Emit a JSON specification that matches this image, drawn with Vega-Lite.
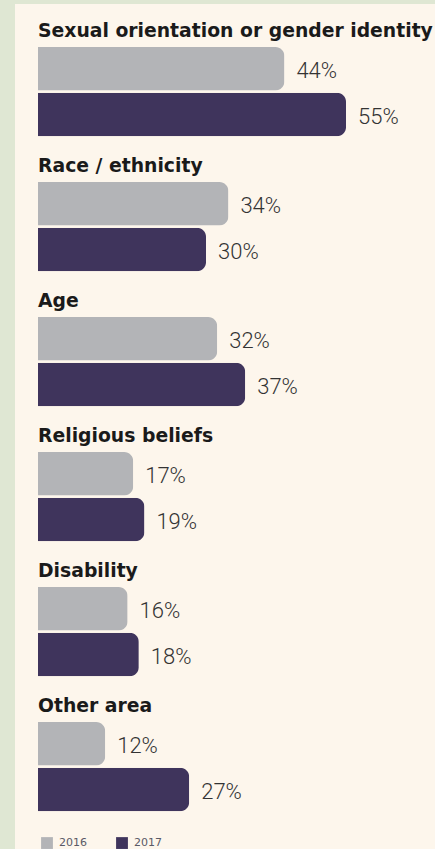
{
  "$schema": "https://vega.github.io/schema/vega-lite/v6.json",
  "width": 420,
  "height": 845,
  "autosize": {"type": "none"},
  "padding": {"left": 15, "top": 4, "right": 0, "bottom": 0},
  "background": "#dfe7d3",
  "view": {"fill": "#fdf6ec", "stroke": null},
  "data": {
    "values": [
      {"category": "Sexual orientation or gender identity", "year": "2016", "value": 0.44},
      {"category": "Sexual orientation or gender identity", "year": "2017", "value": 0.55},
      {"category": "Race / ethnicity", "year": "2016", "value": 0.34},
      {"category": "Race / ethnicity", "year": "2017", "value": 0.30},
      {"category": "Age", "year": "2016", "value": 0.32},
      {"category": "Age", "year": "2017", "value": 0.37},
      {"category": "Religious beliefs", "year": "2016", "value": 0.17},
      {"category": "Religious beliefs", "year": "2017", "value": 0.19},
      {"category": "Disability", "year": "2016", "value": 0.16},
      {"category": "Disability", "year": "2017", "value": 0.18},
      {"category": "Other area", "year": "2016", "value": 0.12},
      {"category": "Other area", "year": "2017", "value": 0.27}
    ]
  },
  "encoding": {
    "y": {
      "field": "category",
      "type": "nominal",
      "sort": null,
      "scale": {"range": [-2.76, 807.24], "paddingInner": 0, "paddingOuter": 0},
      "axis": null
    }
  },
  "layer": [
    {
      "mark": {"type": "bar", "cornerRadiusTopRight": 9, "cornerRadiusBottomRight": 9},
      "encoding": {
        "x": {
          "field": "value",
          "type": "quantitative",
          "scale": {"domain": [0, 0.55], "range": [23, 331], "nice": false},
          "axis": null
        },
        "yOffset": {
          "field": "year",
          "type": "nominal",
          "scale": {"domain": ["title", "2016", "2017"], "paddingInner": 0.05, "paddingOuter": 0}
        },
        "color": {
          "field": "year",
          "type": "nominal",
          "scale": {"domain": ["2016", "2017"], "range": ["#b3b4b7", "#3f345c"]},
          "legend": {
            "title": null,
            "orient": "none",
            "direction": "horizontal",
            "legendX": 26,
            "legendY": 833,
            "symbolType": "square",
            "symbolSize": 140,
            "symbolStrokeWidth": 0,
            "symbolOpacity": 1,
            "labelFontSize": 11,
            "labelFont": "DejaVu Sans",
            "labelColor": "#5a5a66",
            "labelOffset": 6,
            "columnPadding": 29
          }
        }
      }
    },
    {
      "mark": {
        "type": "text",
        "align": "left",
        "baseline": "middle",
        "dx": 12,
        "dy": 2,
        "font": "Roboto",
        "fontWeight": 300,
        "fontSize": 22,
        "color": "#333333"
      },
      "encoding": {
        "x": {"field": "value", "type": "quantitative"},
        "yOffset": {"field": "year", "type": "nominal"},
        "text": {"field": "value", "type": "quantitative", "format": ".0%"}
      }
    },
    {
      "transform": [{"filter": "datum.year == '2016'"}],
      "mark": {
        "type": "text",
        "align": "left",
        "baseline": "alphabetic",
        "dy": 14,
        "font": "DejaVu Sans",
        "fontWeight": "bold",
        "fontSize": 18.8,
        "color": "#1a1a1a"
      },
      "encoding": {
        "x": {"datum": 0, "type": "quantitative"},
        "yOffset": {"datum": "title", "type": "nominal"},
        "text": {"field": "category"}
      }
    }
  ]
}
